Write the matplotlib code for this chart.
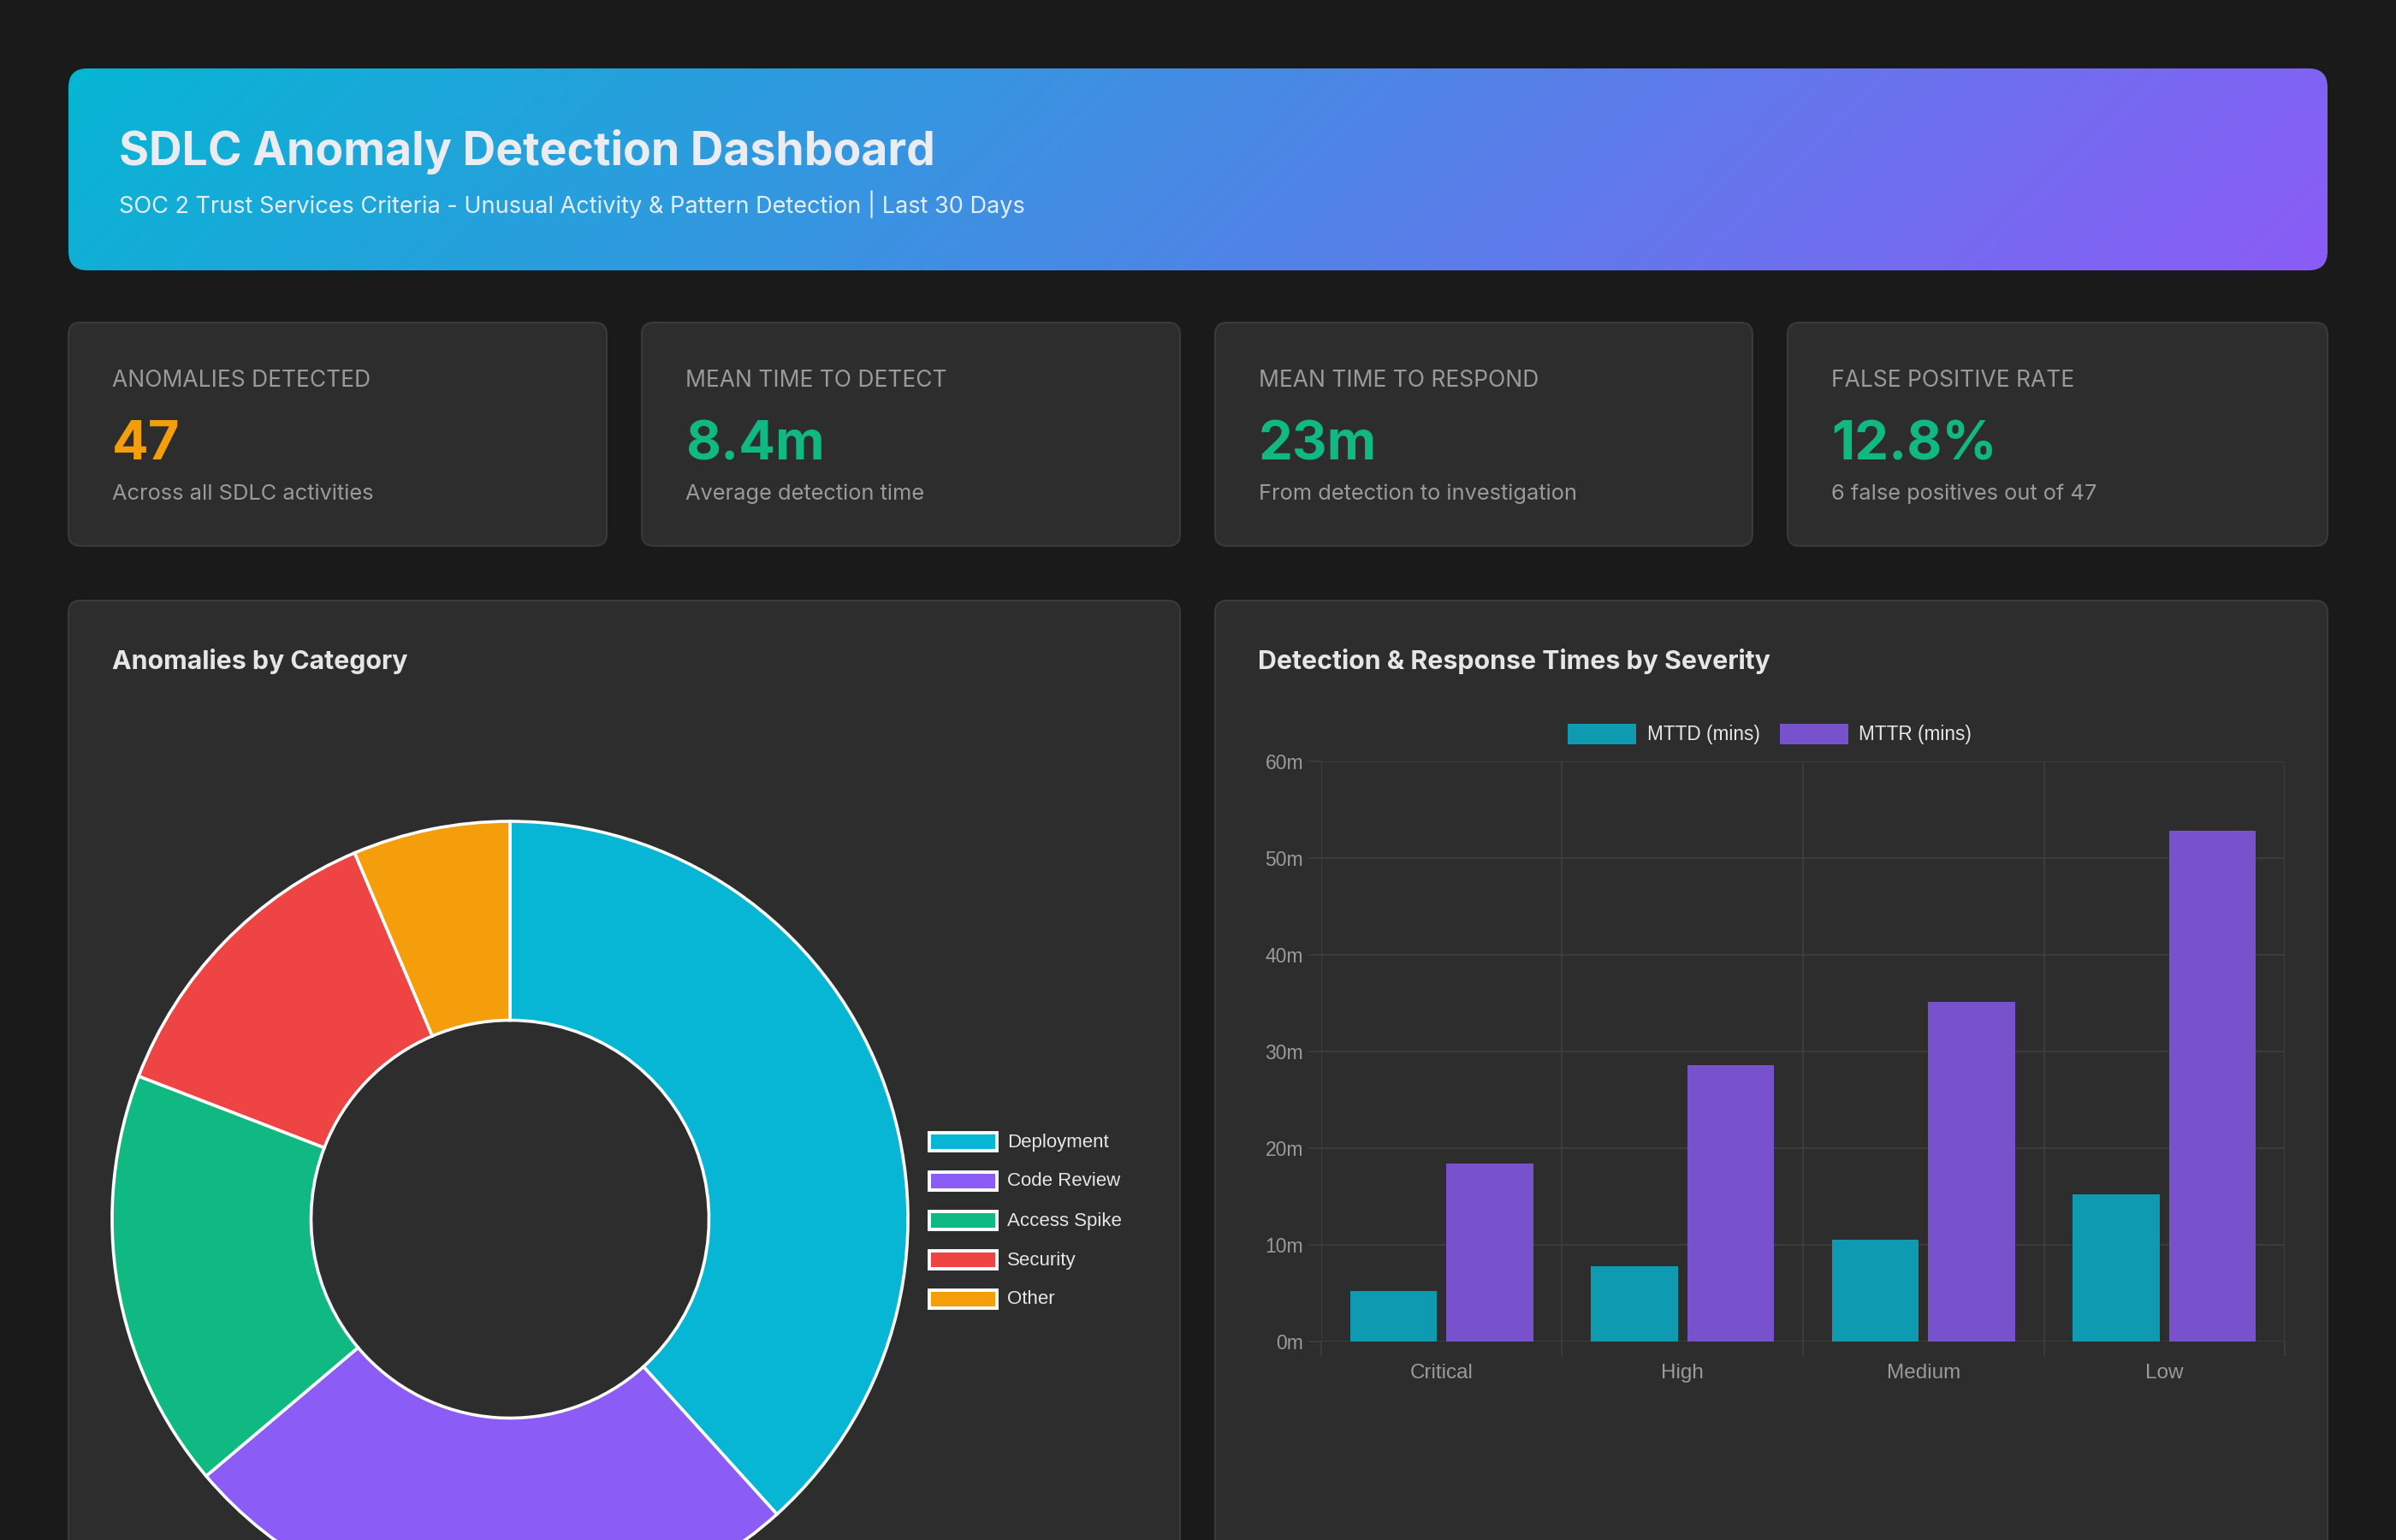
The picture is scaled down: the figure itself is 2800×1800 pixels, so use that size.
import numpy as np
import matplotlib
matplotlib.use("Agg")
import matplotlib.pyplot as plt
from matplotlib.patches import FancyBboxPatch, Rectangle
from matplotlib import rcParams

W, H = 2800, 1800          # output size in pixels
DPI = 100

rcParams['font.family'] = ['Inter', 'DejaVu Sans']
CHART_FONT = ['Liberation Sans', 'DejaVu Sans']

BG     = "#1a1a1a"
CARD   = "#2d2d2d"
BORDER = "#3a3a3a"
MUTED  = "#9a9a9a"
TEXT   = "#e6e6e6"
GRID   = "#3e3e3e"

# ---- data -------------------------------------------------------------
KPI_LABELS = ["ANOMALIES DETECTED", "MEAN TIME TO DETECT",
              "MEAN TIME TO RESPOND", "FALSE POSITIVE RATE"]
KPI_VALUES = ["47", "8.4m", "23m", "12.8%"]
KPI_NOTES  = ["Across all SDLC activities", "Average detection time",
              "From detection to investigation", "6 false positives out of 47"]
KPI_COLORS = ["#f59e0b", "#10b981", "#10b981", "#10b981"]

CATEGORIES = ["Deployment", "Code Review", "Access Spike", "Security", "Other"]
CAT_COUNTS = [18, 12, 8, 6, 3]
CAT_COLORS = ["#06b6d4", "#8b5cf6", "#10b981", "#ef4444", "#f59e0b"]

SEVERITIES = ["Critical", "High", "Medium", "Low"]
MTTD = [5.2, 7.8, 10.5, 15.2]
MTTR = [18.4, 28.6, 35.1, 52.8]
SERIES = ["MTTD (mins)", "MTTR (mins)"]
SERIES_COLORS = ["#0e9ab1", "#7752cc"]
Y_TICKS = [0, 10, 20, 30, 40, 50, 60]


def px_axes(fig, x0, y0, x1, y1):
    """Axes placed by pixel box (top-left origin)."""
    return fig.add_axes([x0 / W, (H - y1) / H, (x1 - x0) / W, (y1 - y0) / H])


def rbox(ax, x0, y0, x1, y1, r, fc, ec="none", lw=0, z=1):
    p = FancyBboxPatch((x0, y0), x1 - x0, y1 - y0,
                       boxstyle=f"round,pad=0,rounding_size={r}",
                       fc=fc, ec=ec, lw=lw, zorder=z)
    ax.add_patch(p)
    return p


fig = plt.figure(figsize=(W / DPI, H / DPI), dpi=DPI, facecolor=BG)

# background canvas in pixel coordinates
bg = fig.add_axes([0, 0, 1, 1])
bg.set_xlim(0, W)
bg.set_ylim(H, 0)
bg.axis('off')
bg.set_facecolor(BG)

# ---- header with diagonal gradient ------------------------------------
hx0, hy0, hx1, hy1 = 80, 80, 2720, 316
clip = rbox(bg, hx0, hy0, hx1, hy1, 22, fc="none")
xx, yy = np.meshgrid(np.linspace(-0.5, 0.5, 600) * (hx1 - hx0),
                     np.linspace(-0.5, 0.5, 60) * (hy1 - hy0))
L = ((hx1 - hx0) + (hy1 - hy0)) * 0.7071
t = np.clip(0.5 + (xx + yy) * 0.7071 / L, 0, 1)[..., None]
c0 = np.array([6, 182, 212]) / 255
c1 = np.array([139, 92, 246]) / 255
img = bg.imshow(c0 * (1 - t) + c1 * t, extent=(hx0, hx1, hy1, hy0),
                origin='upper', aspect='auto', zorder=2, interpolation='bilinear')
img.set_clip_path(clip)
bg.set_xlim(0, W)
bg.set_ylim(H, 0)

bg.text(139, 193, "SDLC Anomaly Detection Dashboard", fontsize=38.5,
        fontweight='bold', color="#ebebf2", va='baseline', zorder=3)
bg.text(139, 249, "SOC 2 Trust Services Criteria - Unusual Activity & Pattern "
        "Detection | Last 30 Days", fontsize=19.5, color="#e4eefa",
        va='baseline', zorder=3)

# ---- KPI cards --------------------------------------------------------
card_x = [(80, 709), (750, 1379), (1420, 2048), (2089, 2720)]
for (x0, x1), lab, val, note, col in zip(card_x, KPI_LABELS, KPI_VALUES,
                                         KPI_NOTES, KPI_COLORS):
    rbox(bg, x0, 377, x1, 638, 14, fc=CARD, ec=BORDER, lw=1.5)
    bg.text(x0 + 51, 452, lab, fontsize=19, color=MUTED, va='baseline', zorder=3)
    bg.text(x0 + 51, 537, val, fontsize=45.5, fontweight='bold', color=col,
            va='baseline', zorder=3)
    bg.text(x0 + 51, 584, note, fontsize=18.3, color=MUTED, va='baseline', zorder=3)

# ---- chart panels -----------------------------------------------------
rbox(bg, 80, 702, 1379, 1900, 14, fc=CARD, ec=BORDER, lw=1.5)
rbox(bg, 1420, 702, 2720, 1900, 14, fc=CARD, ec=BORDER, lw=1.5)
bg.text(131, 782, "Anomalies by Category", fontsize=21.8, fontweight='bold',
        color=TEXT, va='baseline', zorder=3)
bg.text(1470, 782, "Detection & Response Times by Severity", fontsize=21.8,
        fontweight='bold', color=TEXT, va='baseline', zorder=3)

# ---- donut ------------------------------------------------------------
cx, cy, R = 596, 1425, 465
pax = px_axes(fig, cx - R, cy - R, cx + R, cy + R)
wedges, _ = pax.pie(CAT_COUNTS, colors=CAT_COLORS, startangle=90,
                    counterclock=False, radius=1,
                    wedgeprops=dict(width=0.5, edgecolor='white', linewidth=2.6))
for w in wedges:
    w.set_clip_on(False)
pax.set_xlim(-1, 1)
pax.set_ylim(-1, 1)
pax.set_aspect('equal')
pax.axis('off')

# legend (manual, chart.js style)
for i, (name, col) in enumerate(zip(CATEGORIES, CAT_COLORS)):
    yc = 1334 + i * 46
    bg.add_patch(Rectangle((1086, yc - 10.5), 79, 21, fc=col, ec='white',
                           lw=2.8, zorder=3))
    bg.text(1177, yc + 1, name, fontsize=16, color=TEXT, va='center',
            family=CHART_FONT, zorder=3)

# ---- grouped bars -----------------------------------------------------
bax = px_axes(fig, 1544, 890, 2670, 1568)
bax.set_facecolor('none')
x = np.arange(len(SEVERITIES))
bax.bar(x - 0.2, MTTD, width=0.36, color=SERIES_COLORS[0], zorder=3)
bax.bar(x + 0.2, MTTR, width=0.36, color=SERIES_COLORS[1], zorder=3)
bax.set_xlim(-0.5, len(SEVERITIES) - 0.5)
bax.set_ylim(0, 60)
bax.set_yticks(Y_TICKS)
bax.set_yticklabels([f"{v}m" for v in Y_TICKS])
bax.set_xticks(x)
bax.set_xticklabels(SEVERITIES)
bax.set_xticks(np.arange(-0.5, len(SEVERITIES)), minor=True)
bax.tick_params(axis='x', which='major', length=0, pad=19, labelsize=17.5,
                labelcolor=MUTED)
bax.tick_params(axis='x', which='minor', length=12, width=1.2, color=GRID)
bax.tick_params(axis='y', which='major', length=11, width=1.2, color=GRID,
                pad=4, labelsize=16.5, labelcolor=MUTED)
for lab in bax.get_xticklabels() + bax.get_yticklabels():
    lab.set_family(CHART_FONT)
bax.grid(axis='y', which='major', color=GRID, linewidth=1.2, zorder=0)
bax.grid(axis='x', which='minor', color=GRID, linewidth=1.2, zorder=0)
bax.set_axisbelow(True)
for s in bax.spines.values():
    s.set_visible(False)

# bar legend
for (bx, tx), name, col in zip([(1832, 1925), (2080, 2172)], SERIES, SERIES_COLORS):
    bg.add_patch(Rectangle((bx, 846), 80, 24, fc=col, ec='none', zorder=3))
    bg.text(tx, 859, name, fontsize=16.3, color=TEXT, va='center',
            family=CHART_FONT, zorder=3)

fig.savefig("out.png", dpi=DPI, facecolor=BG)
